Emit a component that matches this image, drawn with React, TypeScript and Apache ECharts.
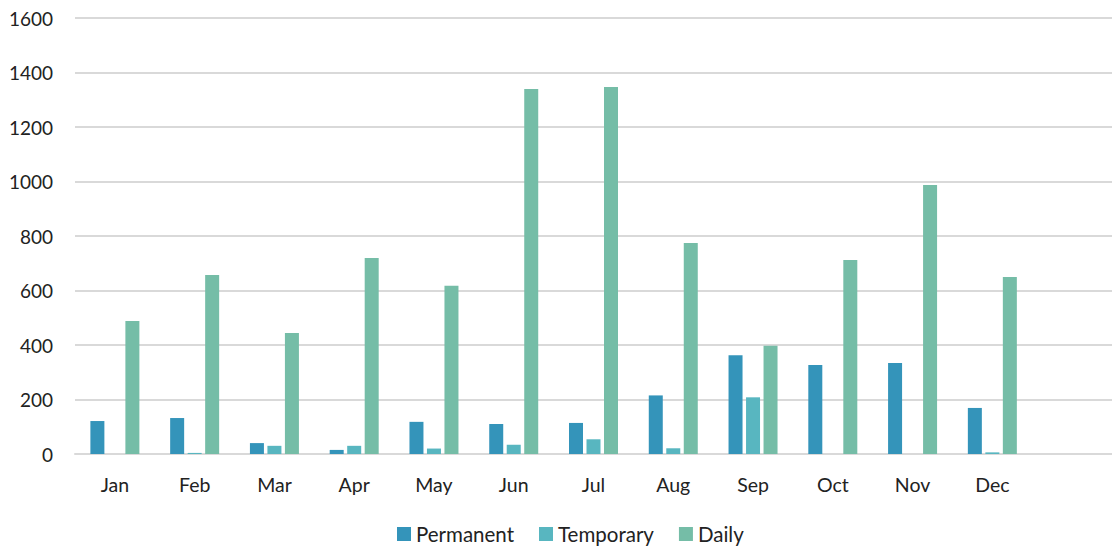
import React, { useEffect, useRef } from "react";
import * as echarts from "echarts";

const categories = ["Jan", "Feb", "Mar", "Apr", "May", "Jun", "Jul", "Aug", "Sep", "Oct", "Nov", "Dec", ""];
const permanent = [121, 132, 40, 15, 118, 110, 114, 215, 362, 327, 334, 169, null];
const temporary = [0, 4, 30, 30, 20, 34, 54, 21, 208, 0, 0, 6, null];
const daily = [488, 657, 444, 719, 617, 1339, 1347, 774, 397, 712, 987, 650, null];
const yTicks = [0, 200, 400, 600, 800, 1000, 1200, 1400, 1600];

const FONT = "Lato, 'Open Sans', sans-serif";

export default function App() {
  const ref = useRef<HTMLDivElement>(null);
  useEffect(() => {
    if (!ref.current) return;
    const chart = echarts.init(ref.current, undefined, { renderer: "svg" });
    const mk = (name: string, data: (number | null)[], color: string) => ({
      name,
      type: "bar",
      data,
      barWidth: 14,
      barGap: "25%",
      itemStyle: { color },
    });
    chart.setOption({
      animation: false,
      textStyle: { fontFamily: FONT },
      grid: { left: 75, right: 0, top: 18, bottom: 94 },
      legend: {
        top: 523,
        left: 397,
        padding: 0,
        itemWidth: 14,
        itemHeight: 14,
        itemGap: 25,
        icon: "rect",
        textStyle: { fontSize: 20.5, lineHeight: 22, color: "#222", fontFamily: FONT },
        data: ["Permanent", "Temporary", "Daily"],
      },
      xAxis: {
        type: "category",
        data: categories,
        axisLine: { lineStyle: { color: "#d9d9d9", width: 2 } },
        axisTick: { show: false },
        axisLabel: { fontSize: 19.5, color: "#222", margin: 20, fontFamily: FONT },
      },
      yAxis: {
        type: "value",
        min: yTicks[0],
        max: yTicks[yTicks.length - 1],
        interval: 200,
        axisLine: { show: false },
        axisTick: { show: false },
        splitLine: { lineStyle: { color: "#d9d9d9", width: 2 } },
        axisLabel: { fontSize: 19, color: "#222", margin: 22, fontFamily: FONT, formatter: (v: number) => String(v) },
      },
      series: [
        mk("Permanent", permanent, "#3494BA"),
        mk("Temporary", temporary, "#58B6C0"),
        mk("Daily", daily, "#75BDA7"),
      ],
    });
    return () => chart.dispose();
  }, []);
  return <div ref={ref} style={{ width: 1112, height: 548, position: "absolute", left: 0, top: 0 }} />;
}
